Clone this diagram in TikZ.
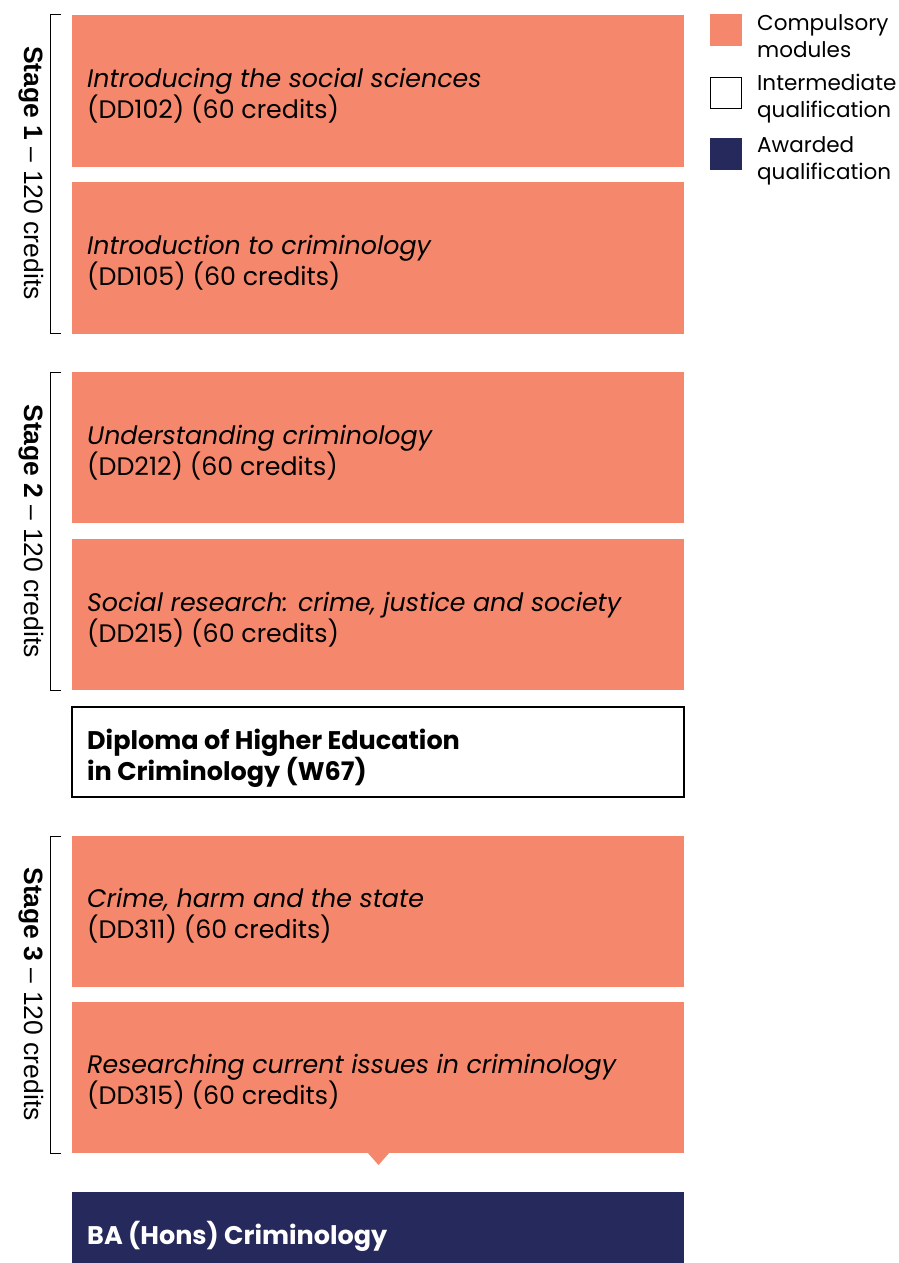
\documentclass[tikz,border=0pt]{standalone}
\usepackage{fontspec}
\setmainfont{Poppins}
\newfontfamily\arialf{Liberation Sans}
\definecolor{modorange}{RGB}{245,135,108}
\definecolor{navy}{RGB}{37,41,92}
\begin{document}
\begin{tikzpicture}[x=1pt,y=-1pt,
  modbox/.style={fill=modorange,draw=none},
  modtext/.style={anchor=west,align=left,inner sep=0pt,font=\fontsize{25.3}{31}\selectfont},
  boldtext/.style={modtext,font=\bfseries\fontsize{25.5}{31}\selectfont},
  bracket/.style={draw=black,line width=1pt},
  stagelabel/.style={rotate=-90,inner sep=0pt,font=\arialf\fontsize{26.5}{30}\selectfont},
  legtext/.style={anchor=west,align=left,inner sep=0pt,font=\fontsize{21.5}{27}\selectfont}]
\useasboundingbox (0,0) rectangle (898,1263);
% module boxes
\fill[modbox] (72,15) rectangle (684,167);
\node[modtext] (t1) at (87,96) {\textit{Introducing the social sciences}\\(DD102) (60 credits)};
\fill[modbox] (72,182) rectangle (684,334);
\node[modtext] (t2) at (87,263) {\textit{Introduction to criminology}\\(DD105) (60 credits)};
\fill[modbox] (72,372) rectangle (684,523);
\node[modtext] (t3) at (87,453) {\textit{Understanding criminology}\\(DD212) (60 credits)};
\fill[modbox] (72,539) rectangle (684,690);
\node[modtext] (t4) at (87,620) {\textit{Social research: crime, justice and society}\\(DD215) (60 credits)};
% diploma
\draw[black,line width=1.2pt,fill=white] (72,707) rectangle (684,797);
\node[boldtext] (dip) at (87,758) {Diploma of Higher Education\\in Criminology (W67)};
\fill[modbox] (72,836) rectangle (684,987);
\node[modtext] (t5) at (87,916) {\textit{Crime, harm and the state}\\(DD311) (60 credits)};
\fill[modbox] (72,1002) rectangle (684,1153);
\fill[modbox] (367,1152) -- (390,1152) -- (378.5,1165) -- cycle;
\node[modtext] (t6) at (87,1082) {\textit{Researching current issues in criminology}\\(DD315) (60 credits)};
% BA
\fill[navy] (72,1192) rectangle (684,1263);
\node[boldtext,text=white] (ba) at (87,1236) {BA (Hons) Criminology};
% brackets
\draw[bracket] (61,15) -- (50,15) -- (50,333) -- (61,333);
\draw[bracket] (61,372) -- (50,372) -- (50,690) -- (61,690);
\draw[bracket] (61,836) -- (50,836) -- (50,1153) -- (61,1153);
\node[stagelabel] (s1) at (31,173) {\textbf{Stage 1} – 120 credits};
\node[stagelabel] (s2) at (31,531) {\textbf{Stage 2} – 120 credits};
\node[stagelabel] (s3) at (31,994) {\textbf{Stage 3} – 120 credits};
% legend
\fill[modorange] (710,14) rectangle (742,46);
\node[legtext] (l1) at (757,36) {Compulsory\\modules};
\draw[black,line width=1pt] (710.5,77.5) rectangle (741.5,108.5);
\node[legtext] (l2) at (757,98.5) {Intermediate\\qualification};
\fill[navy] (710,138) rectangle (742,170);
\node[legtext] (l3) at (757,160.5) {Awarded\\qualification};
\end{tikzpicture}
\end{document}
